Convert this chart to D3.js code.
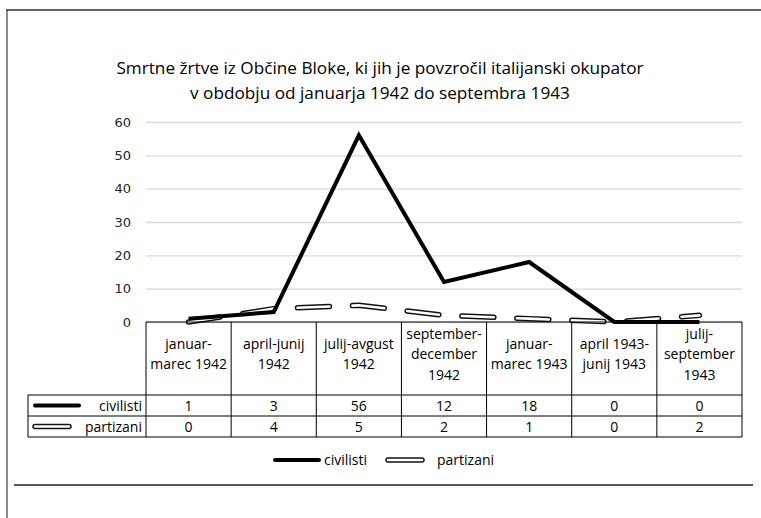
<!DOCTYPE html>
<html lang="sl">
<head>
<meta charset="utf-8">
<title>Smrtne žrtve iz Občine Bloke</title>
<style>
  body { margin: 0; background: #fff; }
  svg { display: block; font-family: "Open Sans", sans-serif; }
  .grid line { stroke: #d9d9d9; stroke-width: 1.3px; }
  .grid text { font-family: "DejaVu Sans", sans-serif; font-size: 13px; fill: #262626; }
  .cell { font-size: 14px; fill: #000; }
</style>
</head>
<body>
<script src="https://cdnjs.cloudflare.com/ajax/libs/d3/7.8.5/d3.min.js"></script>
<script>
// data
var categories = [
  ["januar-", "marec 1942"],
  ["april-junij", "1942"],
  ["julij-avgust", "1942"],
  ["september-", "december", "1942"],
  ["januar-", "marec 1943"],
  ["april 1943-", "junij 1943"],
  ["julij-", "september", "1943"]
];
var civilisti = [1, 3, 56, 12, 18, 0, 0];
var partizani = [0, 4, 5, 2, 1, 0, 2];
var yTicks = [0, 10, 20, 30, 40, 50, 60];
var seriesNames = ["civilisti", "partizani"];
var titleLines = [
  "Smrtne žrtve iz Občine Bloke, ki jih je povzročil italijanski okupator",
  "v obdobju od januarja 1942 do septembra 1943"
];

var W = 761, H = 518;
var plotLeft = 146, plotRight = 742, plotTop = 122, plotBottom = 322;
var headerH = 73, rowH = 21, labelLeft = 28;

var svg = d3.select("body").append("svg")
  .attr("width", W).attr("height", H);

// frame
svg.append("line").attr("x1", 7).attr("x2", 7).attr("y1", 10).attr("y2", H)
  .attr("stroke", "#8c8c8c").attr("stroke-width", 2);
svg.append("line").attr("x1", 6).attr("x2", W).attr("y1", 10).attr("y2", 10)
  .attr("stroke", "#333").attr("stroke-width", 1.5);
svg.append("line").attr("x1", 14).attr("x2", 753).attr("y1", 485).attr("y2", 485)
  .attr("stroke", "#222").attr("stroke-width", 1.5);

// title
svg.append("text")
  .attr("x", 380).attr("y", 74)
  .attr("text-anchor", "middle")
  .style("font-size", "17.2px").style("fill", "#000")
  .selectAll("tspan").data(titleLines).enter().append("tspan")
  .attr("x", 380).attr("dy", function(d, i) { return i ? 25 : 0; })
  .text(function(d) { return d; });

var x = d3.scaleBand().domain(d3.range(categories.length)).range([plotLeft, plotRight]);
var y = d3.scaleLinear().domain([0, 60]).range([plotBottom, plotTop]);
var cx = function(i) { return x(i) + x.bandwidth() / 2; };

// gridlines + tick labels
var grid = svg.append("g").attr("class", "grid")
  .attr("transform", "translate(" + plotLeft + ",0)")
  .call(d3.axisLeft(y).tickValues(yTicks).tickSize(-(plotRight - plotLeft)).tickPadding(15));
grid.select(".domain").remove();

// lines
var line = d3.line().x(function(d, i) { return cx(i); }).y(function(d) { return y(d); });

svg.append("path").datum(partizani)
  .attr("d", line).attr("fill", "none")
  .attr("stroke", "#111").attr("stroke-width", 5.5)
  .attr("stroke-linecap", "round").attr("stroke-dasharray", "32,23");
svg.append("path").datum(partizani)
  .attr("d", line).attr("fill", "none")
  .attr("stroke", "#fff").attr("stroke-width", 2.6)
  .attr("stroke-linecap", "round").attr("stroke-dasharray", "32,23");

svg.append("path").datum(civilisti)
  .attr("d", line).attr("fill", "none")
  .attr("stroke", "#000").attr("stroke-width", 4)
  .attr("stroke-linejoin", "miter");

// data table
var tbl = svg.append("g").attr("fill", "none").attr("stroke", "#000").attr("stroke-width", 1);
var tBottom = plotBottom + headerH + rowH * 2;
tbl.append("line").attr("x1", plotLeft).attr("x2", plotRight).attr("y1", plotBottom).attr("y2", plotBottom);
[1, 2].forEach(function(r) {
  var yy = plotBottom + headerH + rowH * (r - 1);
  tbl.append("line").attr("x1", labelLeft).attr("x2", plotRight).attr("y1", yy).attr("y2", yy);
});
tbl.append("line").attr("x1", labelLeft).attr("x2", plotRight).attr("y1", tBottom).attr("y2", tBottom);
tbl.append("line").attr("x1", labelLeft).attr("x2", labelLeft)
  .attr("y1", plotBottom + headerH).attr("y2", tBottom);
d3.range(categories.length + 1).forEach(function(i) {
  var xx = i < categories.length ? x(i) : plotRight;
  tbl.append("line").attr("x1", xx).attr("x2", xx).attr("y1", plotBottom).attr("y2", tBottom);
});

// header text
categories.forEach(function(c, i) {
  var y0 = plotBottom + headerH / 2 - (c.length - 1) * 10;
  var t = svg.append("text").attr("class", "cell").attr("text-anchor", "middle");
  c.forEach(function(s, k) {
    t.append("tspan").attr("x", cx(i)).attr("y", y0 + k * 20.5).text(s);
  });
});

// values
[civilisti, partizani].forEach(function(vals, r) {
  var yy = plotBottom + headerH + rowH * r + rowH / 2 + 5;
  svg.selectAll(null).data(vals).enter().append("text")
    .attr("class", "cell").attr("text-anchor", "middle")
    .attr("x", function(d, i) { return cx(i); })
    .attr("y", yy)
    .text(function(d) { return d; });
});

// series keys
function key(g, name, x1, x2, yy) {
  if (name === "civilisti") {
    g.append("line").attr("x1", x1).attr("x2", x2).attr("y1", yy).attr("y2", yy)
      .attr("stroke", "#000").attr("stroke-width", 4).attr("stroke-linecap", "round");
  } else {
    g.append("line").attr("x1", x1).attr("x2", x2).attr("y1", yy).attr("y2", yy)
      .attr("stroke", "#111").attr("stroke-width", 5.5).attr("stroke-linecap", "round");
    g.append("line").attr("x1", x1).attr("x2", x2).attr("y1", yy).attr("y2", yy)
      .attr("stroke", "#fff").attr("stroke-width", 2.6).attr("stroke-linecap", "round");
  }
}

seriesNames.forEach(function(n, r) {
  var yy = plotBottom + headerH + rowH * r + rowH / 2;
  if (r === 0) key(svg, n, 35, 79, yy); else key(svg, n, 35, 69, yy);
  svg.append("text").attr("class", "cell").attr("text-anchor", "end")
    .attr("x", 142).attr("y", yy + 5).text(n);
});

// legend
var legendY = 460;
key(svg, "civilisti", 275, 319, legendY);
svg.append("text").attr("class", "cell").attr("x", 324).attr("y", legendY + 5).text("civilisti");
key(svg, "partizani", 388, 422, legendY);
svg.append("text").attr("class", "cell").attr("x", 437).attr("y", legendY + 5).text("partizani");
</script>
</body>
</html>
